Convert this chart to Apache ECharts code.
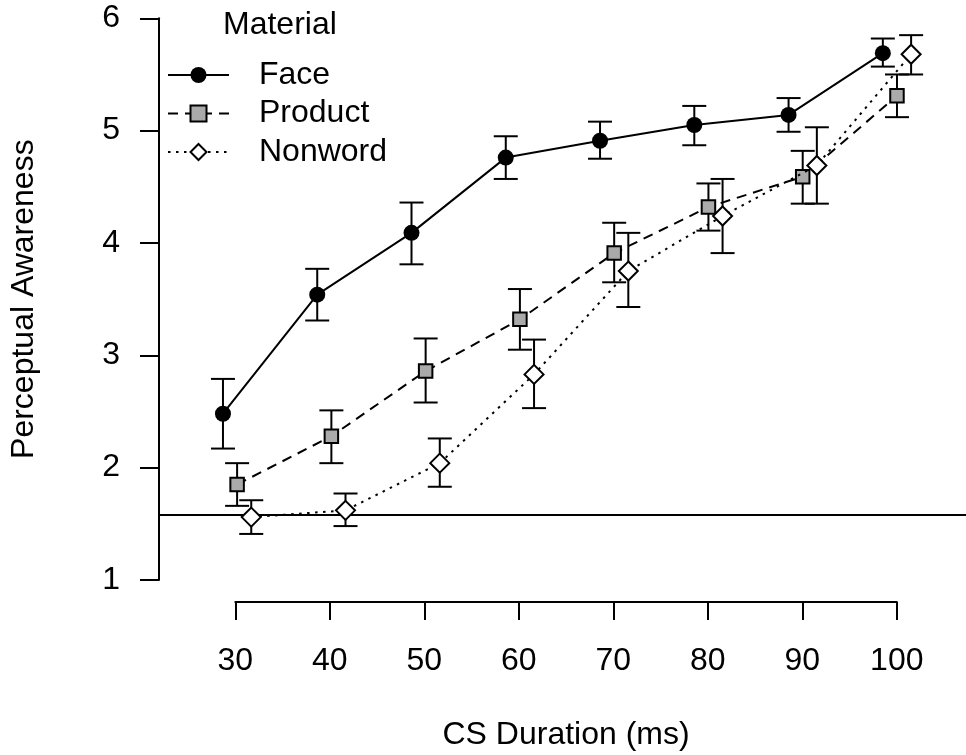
<!DOCTYPE html>
<html>
<head>
<meta charset="utf-8">
<script src="https://cdn.jsdelivr.net/npm/echarts@6/dist/echarts.min.js"></script>
<style>
html,body{margin:0;padding:0;background:#fff;}
#c{width:966px;height:755px;}
</style>
</head>
<body>
<div id="c"></div>
<script>
// ---- data ----
const durations = [30, 40, 50, 60, 70, 80, 90, 100];
const xTicks = [30, 40, 50, 60, 70, 80, 90, 100];
const yTicks = [1, 2, 3, 4, 5, 6];
const materials = ['Face', 'Product', 'Nonword'];
const face      = [2.48, 3.54, 4.09, 4.76, 4.91, 5.05, 5.14, 5.69];
const faceLo    = [2.17, 3.31, 3.81, 4.57, 4.75, 4.87, 4.99, 5.57];
const faceHi    = [2.79, 3.77, 4.36, 4.95, 5.08, 5.22, 5.29, 5.82];
const product   = [1.85, 2.28, 2.86, 3.32, 3.91, 4.32, 4.59, 5.31];
const productLo = [1.66, 2.04, 2.58, 3.05, 3.65, 4.11, 4.35, 5.12];
const productHi = [2.04, 2.51, 3.15, 3.59, 4.18, 4.53, 4.82, 5.50];
const nonword   = [1.56, 1.62, 2.04, 2.83, 3.75, 4.24, 4.69, 5.68];
const nonwordLo = [1.41, 1.48, 1.83, 2.53, 3.43, 3.91, 4.35, 5.50];
const nonwordHi = [1.71, 1.77, 2.26, 3.14, 4.09, 4.57, 5.03, 5.85];
const dodge = [-1.5, 0, 1.5];       // horizontal dodge per material (ms)
const chanceLevel = 1.585;

// ---- layout ----
const FONT = 'Liberation Sans, Arial, Helvetica, sans-serif';
const FS = 32;
const plotLeft = 157, plotRight = 966, plotTop = 18.3, plotBottom = 580;
const tick30 = 235.3, tick100 = 896.8;
const pxPerUnit = (tick100 - tick30) / (100 - 30);
const xMin = 30 - (tick30 - plotLeft) / pxPerUnit;
const xMax = 100 + (plotRight - tick100) / pxPerUnit;

const means = [face, product, nonword];
const lows = [faceLo, productLo, nonwordLo];
const highs = [faceHi, productHi, nonwordHi];
const symbols = ['circle', 'rect', 'diamond'];
const symbolSizes = [16, 13.5, 19];
const fills = ['#000000', '#AAAAAA', '#FFFFFF'];
const dashes = ['solid', [10, 7], [2.5, 5.5]];

const series = [];
materials.forEach((m, i) => {
  series.push({
    name: m + ' err',
    type: 'custom',
    xAxisIndex: 0, yAxisIndex: 0,
    z: 2,
    silent: true,
    data: durations.map((d, j) => [d + dodge[i], lows[i][j], highs[i][j]]),
    renderItem: function (params, api) {
      const x = api.value(0);
      const lo = api.coord([x, api.value(1)]);
      const hi = api.coord([x, api.value(2)]);
      const hw = 12;
      const st = { stroke: '#000', lineWidth: 2, fill: null };
      return {
        type: 'group',
        children: [
          { type: 'line', shape: { x1: lo[0], y1: lo[1], x2: hi[0], y2: hi[1] }, style: st },
          { type: 'line', shape: { x1: lo[0] - hw, y1: lo[1], x2: lo[0] + hw, y2: lo[1] }, style: st },
          { type: 'line', shape: { x1: hi[0] - hw, y1: hi[1], x2: hi[0] + hw, y2: hi[1] }, style: st }
        ]
      };
    }
  });
});
materials.forEach((m, i) => {
  const s = {
    name: m,
    type: 'line',
    xAxisIndex: 0, yAxisIndex: 0,
    z: 3 + i,
    data: durations.map((d, j) => [d + dodge[i], means[i][j]]),
    symbol: symbols[i],
    symbolSize: symbolSizes[i],
    showSymbol: true,
    lineStyle: { color: '#000', width: 2, type: dashes[i] },
    itemStyle: { color: fills[i], borderColor: '#000', borderWidth: i === 0 ? 0 : 2, opacity: 1 },
    emphasis: { disabled: true }
  };
  if (i === 0) {
    s.markLine = {
      silent: true,
      symbol: 'none',
      label: { show: false },
      lineStyle: { color: '#000', width: 2, type: 'solid' },
      data: [{ yAxis: chanceLevel }]
    };
  }
  series.push(s);
});

const chart = echarts.init(document.getElementById('c'), null, { renderer: 'canvas' });
chart.setOption({
  animation: false,
  backgroundColor: '#fff',
  textStyle: { fontFamily: FONT, color: '#000' },
  title: {
    text: 'Material',
    left: 223, top: 9, padding: 0,
    textStyle: { fontFamily: FONT, fontSize: FS, fontWeight: 'normal', color: '#000' }
  },
  legend: {
    data: materials,
    orient: 'vertical',
    left: 167, top: 59, padding: 0,
    itemWidth: 61, itemHeight: 20, itemGap: 6.5,
    selectedMode: false,
    textStyle: { fontFamily: FONT, fontSize: FS, color: '#000', lineHeight: 32, padding: [0, 0, 0, 25] }
  },
  grid: [
    { left: plotLeft, right: 966 - plotRight, top: plotTop, height: plotBottom - plotTop, containLabel: false },
    { left: tick30, right: 966 - tick100, top: 560, height: 42, containLabel: false }
  ],
  xAxis: [
    { gridIndex: 0, type: 'value', min: xMin, max: xMax, show: false },
    {
      gridIndex: 1, type: 'value', min: 30, max: 100, interval: 10, position: 'bottom',
      name: 'CS Duration (ms)', nameLocation: 'middle', nameGap: 117,
      nameTextStyle: { fontFamily: FONT, fontSize: FS, color: '#000' },
      axisLine: { show: true, lineStyle: { color: '#000', width: 2 } },
      axisTick: { show: true, inside: false, length: 18, lineStyle: { color: '#000', width: 2 } },
      axisLabel: { show: true, fontFamily: FONT, fontSize: FS, color: '#000', margin: 43,
        customValues: xTicks },
      splitLine: { show: false }
    }
  ],
  yAxis: [
    {
      gridIndex: 0, type: 'value', min: 1, max: 6, interval: 1,
      name: 'Perceptual Awareness', nameLocation: 'middle', nameGap: 119,
      nameTextStyle: { fontFamily: FONT, fontSize: FS, color: '#000' },
      axisLine: { show: true, lineStyle: { color: '#000', width: 2 } },
      axisTick: { show: true, inside: false, length: 19, lineStyle: { color: '#000', width: 2 } },
      axisLabel: { show: true, fontFamily: FONT, fontSize: FS, color: '#000', margin: 39,
        padding: [0, 0, 6, 0] },
      splitLine: { show: false }
    },
    { gridIndex: 1, type: 'value', show: false }
  ],
  series: series
});
</script>
</body>
</html>
